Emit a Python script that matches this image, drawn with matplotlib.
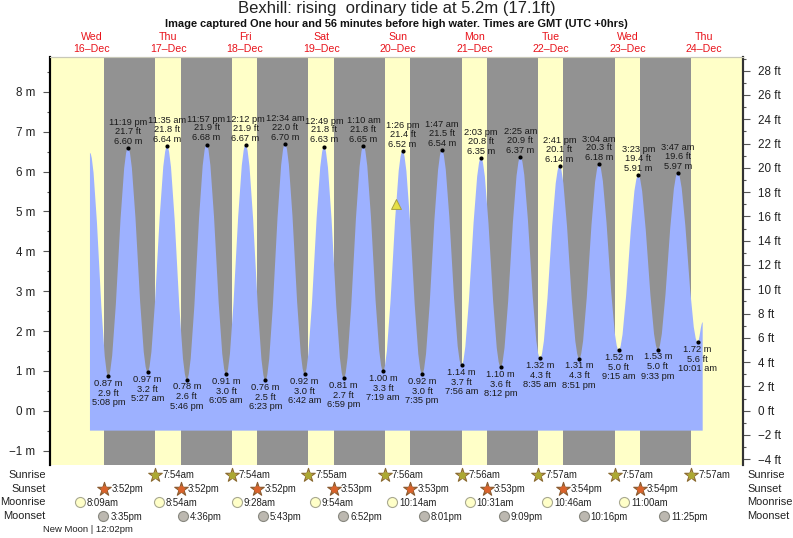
import matplotlib
matplotlib.use("Agg")
import matplotlib.pyplot as plt
from matplotlib.path import Path
from matplotlib.patches import PathPatch
from matplotlib.ticker import MultipleLocator, FuncFormatter
from matplotlib.transforms import blended_transform_factory

plt.rcParams["font.family"] = ["Liberation Sans", "DejaVu Sans"]

# day number counted from 16-Dec
tide_day = [0, 0, 1, 1, 1, 1, 2, 2, 2, 3, 3, 3, 3, 4, 4, 4, 4, 5, 5, 5, 5, 6, 6, 6, 6, 7, 7, 7, 7, 8, 8]
tide_time = ["5:08 pm", "11:19 pm", "5:27 am", "11:35 am", "5:46 pm", "11:57 pm", "6:05 am", "12:12 pm",
             "6:23 pm", "12:34 am", "6:42 am", "12:49 pm", "6:59 pm", "1:10 am", "7:19 am", "1:26 pm",
             "7:35 pm", "1:47 am", "7:56 am", "2:03 pm", "8:12 pm", "2:25 am", "8:35 am", "2:41 pm",
             "8:51 pm", "3:04 am", "9:15 am", "3:23 pm", "9:33 pm", "3:47 am", "10:01 am"]
tide_m = [0.87, 6.60, 0.97, 6.64, 0.78, 6.68, 0.91, 6.67, 0.76, 6.70, 0.92, 6.63, 0.81, 6.65, 1.00, 6.52,
          0.92, 6.54, 1.14, 6.35, 1.10, 6.37, 1.32, 6.14, 1.31, 6.18, 1.52, 5.91, 1.53, 5.97, 1.72]
tide_ft = [2.9, 21.7, 3.2, 21.8, 2.6, 21.9, 3.0, 21.9, 2.5, 22.0, 3.0, 21.8, 2.7, 21.8, 3.3, 21.4,
           3.0, 21.5, 3.7, 20.8, 3.6, 20.9, 4.3, 20.1, 4.3, 20.3, 5.0, 19.4, 5.0, 19.6, 5.6]
curve_start = (0.474, 6.47)
curve_end = (8.483, 2.22)
water_floor = -0.5

sunrise_day = [1, 2, 3, 4, 5, 6, 7, 8]
sunrise = ["7:54am", "7:54am", "7:55am", "7:56am", "7:56am", "7:57am", "7:57am", "7:57am"]
sunset_day = [0, 1, 2, 3, 4, 5, 6, 7]
sunset = ["3:52pm", "3:52pm", "3:52pm", "3:53pm", "3:53pm", "3:53pm", "3:54pm", "3:54pm"]
moonrise_day = [0, 1, 2, 3, 4, 5, 6, 7]
moonrise = ["8:09am", "8:54am", "9:28am", "9:54am", "10:14am", "10:31am", "10:46am", "11:00am"]
moonset_day = [0, 1, 2, 3, 4, 5, 6, 7]
moonset = ["3:35pm", "4:36pm", "5:43pm", "6:52pm", "8:01pm", "9:09pm", "10:16pm", "11:25pm"]

weekdays = ["Wed", "Thu", "Fri", "Sat", "Sun", "Mon", "Tue", "Wed", "Thu"]
dates = ["16–Dec", "17–Dec", "18–Dec", "19–Dec", "20–Dec", "21–Dec", "22–Dec", "23–Dec", "24–Dec"]
now_point = (4.479, 5.2)

YELLOW = "#ffffc8"
GREY = "#929292"
BLUE = "#9db1ff"
W, H = 793, 538


def to_days(day, t):
    clock = t.replace(" ", "")
    hh, mm = clock[:-2].split(":")
    hour = int(hh) % 12 + (12 if clock.endswith("pm") else 0)
    return day + (hour + int(mm) / 60) / 24


tide_x = [to_days(d, t) for d, t in zip(tide_day, tide_time)]
sunrise_x = [to_days(d, t) for d, t in zip(sunrise_day, sunrise)]
sunset_x = [to_days(d, t) for d, t in zip(sunset_day, sunset)]
moonrise_x = [to_days(d, t) for d, t in zip(moonrise_day, moonrise)]
moonset_x = [to_days(d, t) for d, t in zip(moonset_day, moonset)]

fig = plt.figure(figsize=(W / 100, H / 100), dpi=100)
ax = fig.add_axes([49.5 / W, 1 - 464.5 / H, 693.5 / W, 408 / H])
ax.set_xlim(-0.055, 9.01)
ax.set_ylim(-1.35, 8.89)
ax.set_facecolor(YELLOW)

for start, end in zip(sunset_x, sunrise_x):
    ax.axvspan(start, end, color=GREY, lw=0, zorder=1)

# bezier segments between the turning points, flat at each high and low
xs = [curve_start[0]] + tide_x + [curve_end[0]]
ys = [curve_start[1]] + tide_m + [curve_end[1]]
verts = [(xs[0], water_floor), (xs[0], ys[0])]
codes = [Path.MOVETO, Path.LINETO]
for i in range(len(xs) - 1):
    dx = xs[i + 1] - xs[i]
    verts += [(xs[i] + 0.364 * dx, ys[i]), (xs[i + 1] - 0.364 * dx, ys[i + 1]), (xs[i + 1], ys[i + 1])]
    codes += [Path.CURVE4] * 3
verts += [(xs[-1], water_floor), (xs[0], water_floor)]
codes += [Path.LINETO, Path.CLOSEPOLY]
ax.add_patch(PathPatch(Path(verts, codes), facecolor=BLUE, edgecolor="none", zorder=2))

ax.scatter(tide_x, tide_m, s=9, color="black", linewidths=0, zorder=4)
for x, m, ft, t in zip(tide_x, tide_m, tide_ft, tide_time):
    sign = 1 if m > 3 else -1
    steps = (4.8, 12, 18.3) if sign > 0 else (5.2, 12.4, 19.1)
    for text, off in zip((f"{m:.2f} m", f"{ft:.1f} ft", t), steps):
        ax.annotate(text, (x, m), xytext=(0, sign * off), textcoords="offset points",
                    ha="center", va="center", fontsize=6.7, color="#1a1a1a", zorder=5)

ax.scatter([now_point[0]], [now_point[1]], marker="^", s=50, color="#e6e045",
           edgecolors="#a8a040", linewidths=0.7, zorder=6)

# left axis in metres, right axis in feet
ax.set_xticks([])
ax.yaxis.set_major_locator(MultipleLocator(1))
ax.yaxis.set_minor_locator(MultipleLocator(0.5))
ax.yaxis.set_major_formatter(FuncFormatter(lambda v, p: f"{int(v)} m".replace("-", "−")))
ax.tick_params(axis="y", which="major", length=5, width=0.8, labelsize=8.4, pad=5.5, color="#555555", labelcolor="#222222")
ax.tick_params(axis="y", which="minor", length=2.2, width=0.8, color="#555555")

ax2 = ax.twinx()
ax2.set_ylim(-1.35 / 0.3048, 8.89 / 0.3048)
ax2.yaxis.set_major_locator(MultipleLocator(2))
ax2.yaxis.set_minor_locator(MultipleLocator(1))
ax2.yaxis.set_major_formatter(FuncFormatter(lambda v, p: f"{int(v)} ft".replace("-", "−")))
ax2.tick_params(axis="y", which="major", length=5, width=0.8, labelsize=8.4, pad=6, color="#555555", labelcolor="#222222")
ax2.tick_params(axis="y", which="minor", length=2.2, width=0.8, color="#555555")

for a in (ax, ax2):
    a.spines["bottom"].set_visible(False)
    a.spines["top"].set_color("#c8c8b8")
    a.spines["top"].set_linewidth(0.8)
    a.spines["left"].set_color("black")
    a.spines["left"].set_linewidth(1.5)
    a.spines["right"].set_color("#333333")
    a.spines["right"].set_linewidth(1.5)

trans = blended_transform_factory(ax.transData, fig.transFigure)


def fy(py):
    return 1 - py / H


for i, (wd, date) in enumerate(zip(weekdays, dates)):
    ax.text(i + 0.5, fy(36.5), wd, transform=trans, ha="center", va="center", fontsize=7.7, color="#e8141c")
    ax.text(i + 0.5, fy(48.5), date, transform=trans, ha="center", va="center", fontsize=7.7, color="#e8141c")

fig.text(396.5 / W, fy(8), "Bexhill: rising  ordinary tide at 5.2m (17.1ft)", ha="center", va="center",
         fontsize=12, color="#222222")
fig.text(396.5 / W, fy(24), "Image captured One hour and 56 minutes before high water. Times are GMT (UTC +0hrs)",
         ha="center", va="center", fontsize=7.95, fontweight="bold", color="#111111")

rows = [
    ("Sunrise", 475, sunrise_x, sunrise, "*", "#c4a85a", "#8a6a30", "#aca832"),
    ("Sunset", 489, sunset_x, sunset, "*", "#b8723a", "#8a5a30", "#d9622b"),
    ("Moonrise", 502, moonrise_x, moonrise, "o", "#ffffc8", "#a8a890", None),
    ("Moonset", 516, moonset_x, moonset, "o", "#bcb8b0", "#888880", None),
]
for name, py, row_x, row_t, marker, face, edge, inner in rows:
    fig.text(45.5 / W, fy(py), name, ha="right", va="center", fontsize=7.9, color="#222222")
    fig.text(747 / W, fy(py), name, ha="left", va="center", fontsize=7.9, color="#222222")
    ax.scatter(row_x, [fy(py)] * len(row_x), transform=trans, clip_on=False, marker=marker,
               s=105 if marker == "*" else 52, color=face, edgecolors=edge, linewidths=0.8, zorder=6)
    if inner:
        ax.scatter(row_x, [fy(py)] * len(row_x), transform=trans, clip_on=False, marker="o",
                   s=24, color=inner, linewidths=0, zorder=7)
    for x, t in zip(row_x, row_t):
        ax.annotate(t, (x, fy(py + 0.5)), xycoords=trans, xytext=(5.0, 0), textcoords="offset points",
                    ha="left", va="center", fontsize=6.9, color="#222222", annotation_clip=False)

fig.text(43 / W, fy(530), "New Moon | 12:02pm", ha="left", va="center", fontsize=6.8, color="#222222")

fig.savefig("out.png", dpi=100)
plt.close(fig)
